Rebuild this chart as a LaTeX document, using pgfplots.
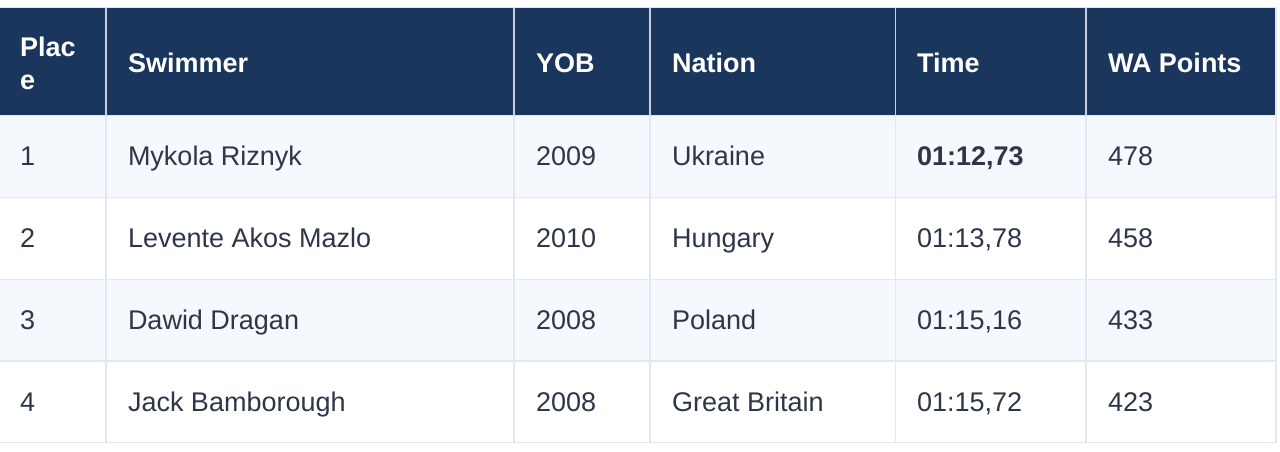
\documentclass[border=0pt]{standalone}
\usepackage{fontspec}
\setmainfont{Liberation Sans}
\usepackage{pgfplots}
\pgfplotsset{compat=1.18}
\definecolor{navy}{HTML}{1B365D}
\definecolor{stripe}{HTML}{F5F8FC}
\definecolor{gridc}{HTML}{E2E8F0}
\definecolor{hsep}{HTML}{C8D0DC}
\definecolor{bodyc}{HTML}{2D3748}
\begin{document}
\begin{tikzpicture}
\begin{axis}[
  width=1280pt, height=451pt, scale only axis,
  xmin=0, xmax=1280, ymin=0, ymax=451, y dir=reverse,
  axis lines=none, xtick=\empty, ytick=\empty,
  clip=false,
  txt/.style={only marks, mark=*, mark size=0pt, mark options={draw=none, fill=none},
    nodes near coords, point meta=explicit symbolic,
    every node near coord/.append style={anchor=base west, inner sep=0pt, outer sep=0pt}},
]
% backgrounds
\addplot[fill=white, draw=none] coordinates {(0,0) (1280,0) (1280,451) (0,451)} -- cycle;
\addplot[fill=navy, draw=none] coordinates {(0,7.5) (1276,7.5) (1276,115) (0,115)} -- cycle;
\addplot[fill=stripe, draw=none] coordinates {(0,115) (1276,115) (1276,197) (0,197)} -- cycle;
\addplot[fill=stripe, draw=none] coordinates {(0,279) (1276,279) (1276,361) (0,361)} -- cycle;
% horizontal lines
\addplot[gridc, line width=1.4pt] coordinates {(0,7.5) (1276,7.5)};
\addplot[gridc, line width=1.4pt] coordinates {(0,115.5) (1276,115.5)};
\addplot[gridc, line width=1.4pt] coordinates {(0,197.5) (1276,197.5)};
\addplot[gridc, line width=1.4pt] coordinates {(0,279.5) (1276,279.5)};
\addplot[gridc, line width=1.4pt] coordinates {(0,361) (1276,361)};
\addplot[gridc, line width=1.4pt] coordinates {(0,442.5) (1276,442.5)};
% vertical lines, body
\addplot[gridc, line width=1.4pt] coordinates {(106,115) (106,443)};
\addplot[gridc, line width=1.4pt] coordinates {(514,115) (514,443)};
\addplot[gridc, line width=1.4pt] coordinates {(650,115) (650,443)};
\addplot[gridc, line width=1.4pt] coordinates {(895.5,115) (895.5,443)};
\addplot[gridc, line width=1.4pt] coordinates {(1086,115) (1086,443)};
\addplot[gridc, line width=1.4pt] coordinates {(1276,7) (1276,443)};
% vertical lines, header
\addplot[hsep, line width=1.4pt] coordinates {(106,7.5) (106,115)};
\addplot[hsep, line width=1.4pt] coordinates {(514,7.5) (514,115)};
\addplot[hsep, line width=1.4pt] coordinates {(650,7.5) (650,115)};
\addplot[hsep, line width=1.4pt] coordinates {(895.5,7.5) (895.5,115)};
\addplot[hsep, line width=1.4pt] coordinates {(1086,7.5) (1086,115)};
% header text
\addplot[txt, every node near coord/.append style={text=white, font=\fontsize{27}{33}\selectfont\bfseries}]
 table[col sep=comma, row sep=\\, meta=t] {
x,y,t\\
20,56.7,Plac\\
20,89.3,e\\
128,72.7,Swimmer\\
536,72.7,YOB\\
672,72.7,Nation\\
917,72.7,Time\\
1108,72.7,WA Points\\
};
% body text
\addplot[txt, every node near coord/.append style={text=bodyc, font=\fontsize{27}{33}\selectfont}]
 table[col sep=comma, row sep=\\, meta=t] {
x,y,t\\
20,165,1\\
128,165,Mykola Riznyk\\
536,165,2009\\
672,165,Ukraine\\
1108,165,478\\
20,247,2\\
128,247,Levente Akos Mazlo\\
536,247,2010\\
672,247,Hungary\\
917,247,{01:13,78}\\
1108,247,458\\
20,329,3\\
128,329,Dawid Dragan\\
536,329,2008\\
672,329,Poland\\
917,329,{01:15,16}\\
1108,329,433\\
20,411,4\\
128,411,Jack Bamborough\\
536,411,2008\\
672,411,Great Britain\\
917,411,{01:15,72}\\
1108,411,423\\
};
\addplot[txt, every node near coord/.append style={text=bodyc, font=\fontsize{27}{33}\selectfont\bfseries}]
 table[col sep=comma, row sep=\\, meta=t] {
x,y,t\\
917,165,{01:12,73}\\
};
\end{axis}
\pgfresetboundingbox
\useasboundingbox (current axis.south west) rectangle (current axis.north east);
\end{tikzpicture}
\end{document}
